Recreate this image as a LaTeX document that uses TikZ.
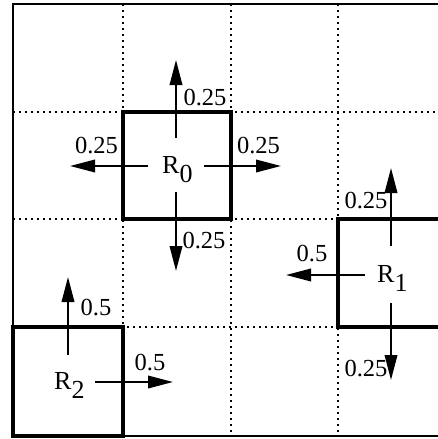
\documentclass[tikz,border=0pt]{standalone}
\usepackage{fontspec}
\setmainfont{Liberation Serif}
\usetikzlibrary{arrows.meta}
\begin{document}
\begin{tikzpicture}[x=1pt,y=-1pt,
  grid/.style={line width=1.8pt, dash pattern=on 1.8pt off 4.2pt},
  outer/.style={line width=2.5pt},
  region/.style={line width=3.3pt},
  flow/.style={line width=2pt,-{Triangle[length=25pt,width=12.5pt]}},
  lbl/.style={font=\fontsize{24.5}{24.5}\selectfont, inner sep=0pt, anchor=base},
  rname/.style={font=\fontsize{26}{26}\selectfont, inner sep=0pt, anchor=base west}]
\useasboundingbox (0,0) rectangle (438,439);
\clip (0,0) rectangle (438,439);
% dotted grid
\draw[grid] (123,4) -- (123,436);
\draw[grid] (231,4) -- (231,436);
\draw[grid] (338,4) -- (338,436);
\draw[grid] (13,112) -- (446,112);
\draw[grid] (13,219) -- (446,219);
\draw[grid] (13,327) -- (446,327);
% outer border
\draw[outer] (13,4) rectangle (446,436);
% regions
\draw[region, fill=white] (123,112) rectangle (231,219);
\draw[region, fill=white] (338,219) rectangle (446,327);
\draw[region, fill=white] (13,327) rectangle (123,436);
% region names
\node[rname] (r0) at (162,173) {R\raisebox{-0.38em}{0}};
\node[rname] (r1) at (377,282) {R\raisebox{-0.38em}{1}};
\node[rname] (r2) at (54,389) {R\raisebox{-0.38em}{2}};
% arrow endpoints
\coordinate (a0us) at (176,138); \coordinate (a0ue) at (176,60);
\coordinate (a0ds) at (176,192); \coordinate (a0de) at (176,271);
\coordinate (a0ls) at (148,166); \coordinate (a0le) at (70,166);
\coordinate (a0rs) at (204,166); \coordinate (a0re) at (281,166);
\coordinate (a1us) at (391,246); \coordinate (a1ue) at (391,168);
\coordinate (a1ds) at (391,303); \coordinate (a1de) at (391,380);
\coordinate (a1ls) at (365,275); \coordinate (a1le) at (286,275);
\coordinate (a2us) at (68,355); \coordinate (a2ue) at (68,277);
\coordinate (a2rs) at (95,382); \coordinate (a2re) at (173,382);
\draw[flow] (a0us) -- (a0ue);
\draw[flow] (a0ds) -- (a0de);
\draw[flow] (a0ls) -- (a0le);
\draw[flow] (a0rs) -- (a0re);
\draw[flow] (a1us) -- (a1ue);
\draw[flow] (a1ds) -- (a1de);
\draw[flow] (a1ls) -- (a1le);
\draw[flow] (a2us) -- (a2ue);
\draw[flow] (a2rs) -- (a2re);
% labels
\node[lbl] (l0u) at (205,105) {0.25};
\node[lbl] (l0l) at (96.5,153) {0.25};
\node[lbl] (l0r) at (258.5,153) {0.25};
\node[lbl] (l0d) at (204,248) {0.25};
\node[lbl] (l1u) at (366,208) {0.25};
\node[lbl] (l1l) at (312,261) {0.5};
\node[lbl] (l1d) at (366,376) {0.25};
\node[lbl] (l2u) at (96,315) {0.5};
\node[lbl] (l2r) at (150,370) {0.5};
\end{tikzpicture}
\end{document}
